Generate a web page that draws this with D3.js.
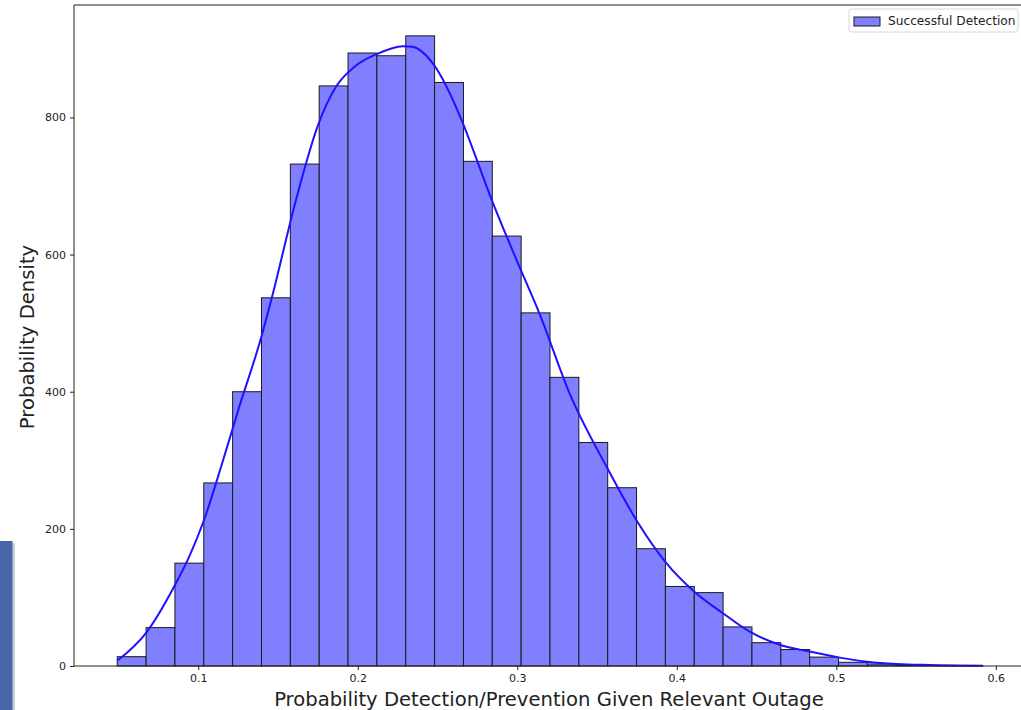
<!DOCTYPE html>
<html>
<head>
<meta charset="utf-8">
<script src="https://cdn.jsdelivr.net/npm/d3@7"></script>
<style>
  html, body { margin: 0; padding: 0; background: #fff; }
  svg { display: block; }
  text { font-family: "DejaVu Sans", sans-serif; }
</style>
</head>
<body>
<svg id="chart" width="1021" height="710"></svg>
<script>
// ---- data ----
const binRange = [0.0492, 0.5918];
const binCounts = [13.6, 56, 150, 267, 400, 537, 732, 846, 894, 890, 919, 851, 736, 627, 515,
                   421, 326, 260, 171, 116, 107, 57, 34, 24, 13, 5.4, 2.9, 1, 0.5, 0.5];
const kdeX = [0.0492, 0.0672, 0.0849, 0.0944, 0.1038, 0.1145, 0.1257, 0.1393, 0.1460,
              0.1613, 0.1748, 0.1864, 0.1985, 0.2115, 0.2282, 0.2343, 0.2470, 0.2658,
              0.2700, 0.2836, 0.3014, 0.3139, 0.3327, 0.3568, 0.3746, 0.3928,
              0.4112, 0.4289, 0.4457, 0.4645, 0.4833, 0.5011, 0.5193, 0.5377, 0.5586, 0.5918];
const kdeY = [7.7, 48, 116, 160, 214, 292, 378, 478, 536,
              680, 787, 845, 875, 892, 904, 903, 879, 792,
              767, 682, 582, 514, 398, 287, 213, 152,
              108, 77, 50, 31, 21, 12.6, 6.3, 2.9, 1.5, 0.5];
const xTicks = [0.1, 0.2, 0.3, 0.4, 0.5, 0.6];
const yTicks = [0, 200, 400, 600, 800];
const xDomain = [0.0221, 0.6189];
const yDomain = [0, 964];
const xLabel = "Probability Detection/Prevention Given Relevant Outage";
const yLabel = "Probability Density";
const legendLabel = "Successful Detection";

// ---- drawing ----
const svg = d3.select("#chart");
const mLeft = 74, mTop = 5, mBottom = 666, mRight = 1026;
const x = d3.scaleLinear().domain(xDomain).range([mLeft, mRight]);
const y = d3.scaleLinear().domain(yDomain).range([mBottom, mTop]);

// decorative side panel from the screenshot
svg.append("rect").attr("x", 12).attr("y", 543).attr("width", 3).attr("height", 167).attr("fill", "#cfcfcf");
svg.append("rect").attr("x", 0).attr("y", 541).attr("width", 12.5).attr("height", 169).attr("fill", "#4767ab");

const nb = binCounts.length;
const bw = (binRange[1] - binRange[0]) / nb;
const bins = binCounts.map((c, i) => ({x0: binRange[0] + i * bw, x1: binRange[0] + (i + 1) * bw, c}));

svg.append("g").selectAll("rect").data(bins).join("rect")
  .attr("x", d => x(d.x0))
  .attr("y", d => y(d.c))
  .attr("width", d => x(d.x1) - x(d.x0))
  .attr("height", d => y(0) - y(d.c))
  .attr("fill", "#8080ff")
  .attr("stroke", "#1a1a1a")
  .attr("stroke-width", 1);

const line = d3.line().x((d, i) => x(kdeX[i])).y(d => y(d)).curve(d3.curveMonotoneX);
svg.append("path").datum(kdeY)
  .attr("d", line)
  .attr("fill", "none")
  .attr("stroke", "#1f10ff")
  .attr("stroke-width", 2);

// axes
const xAxis = d3.axisBottom(x).tickValues(xTicks).tickSize(4).tickPadding(4).tickFormat(d3.format(".1f"));
const gx = svg.append("g").attr("transform", `translate(0,${mBottom})`).call(xAxis);
const yAxis = d3.axisLeft(y).tickValues(yTicks).tickSize(4).tickPadding(4).tickFormat(d3.format("d"));
const gy = svg.append("g").attr("transform", `translate(${mLeft},0)`).call(yAxis);
[gx, gy].forEach(g => {
  g.select(".domain").remove();
  g.selectAll("line").attr("stroke", "#222");
  g.selectAll("text").attr("fill", "#222").style("font-size", "11px").style("font-family", "'DejaVu Sans', sans-serif");
});

// spines
svg.append("line").attr("x1", mLeft).attr("x2", mLeft).attr("y1", mTop).attr("y2", mBottom).attr("stroke", "#222");
svg.append("line").attr("x1", mLeft).attr("x2", 1021).attr("y1", mBottom).attr("y2", mBottom).attr("stroke", "#222");
svg.append("line").attr("x1", mLeft).attr("x2", 1021).attr("y1", mTop).attr("y2", mTop).attr("stroke", "#222");

// labels
svg.append("text").attr("x", 549).attr("y", 706).attr("text-anchor", "middle")
  .style("font-size", "19.6px").attr("fill", "#222").text(xLabel);
svg.append("text").attr("transform", "translate(34,337) rotate(-90)").attr("text-anchor", "middle")
  .style("font-size", "19.6px").attr("fill", "#222").text(yLabel);

// legend
const lg = svg.append("g").attr("transform", "translate(849,9)");
lg.append("rect").attr("x", 0).attr("y", 0).attr("width", 169).attr("height", 23).attr("rx", 2)
  .attr("fill", "#fff").attr("stroke", "#d8d8d8");
lg.append("rect").attr("x", 5).attr("y", 8).attr("width", 26).attr("height", 9)
  .attr("fill", "#8080ff").attr("stroke", "#1a1a1a");
lg.append("text").attr("x", 39).attr("y", 16).style("font-size", "12.2px").attr("fill", "#222").text(legendLabel);
</script>
</body>
</html>
